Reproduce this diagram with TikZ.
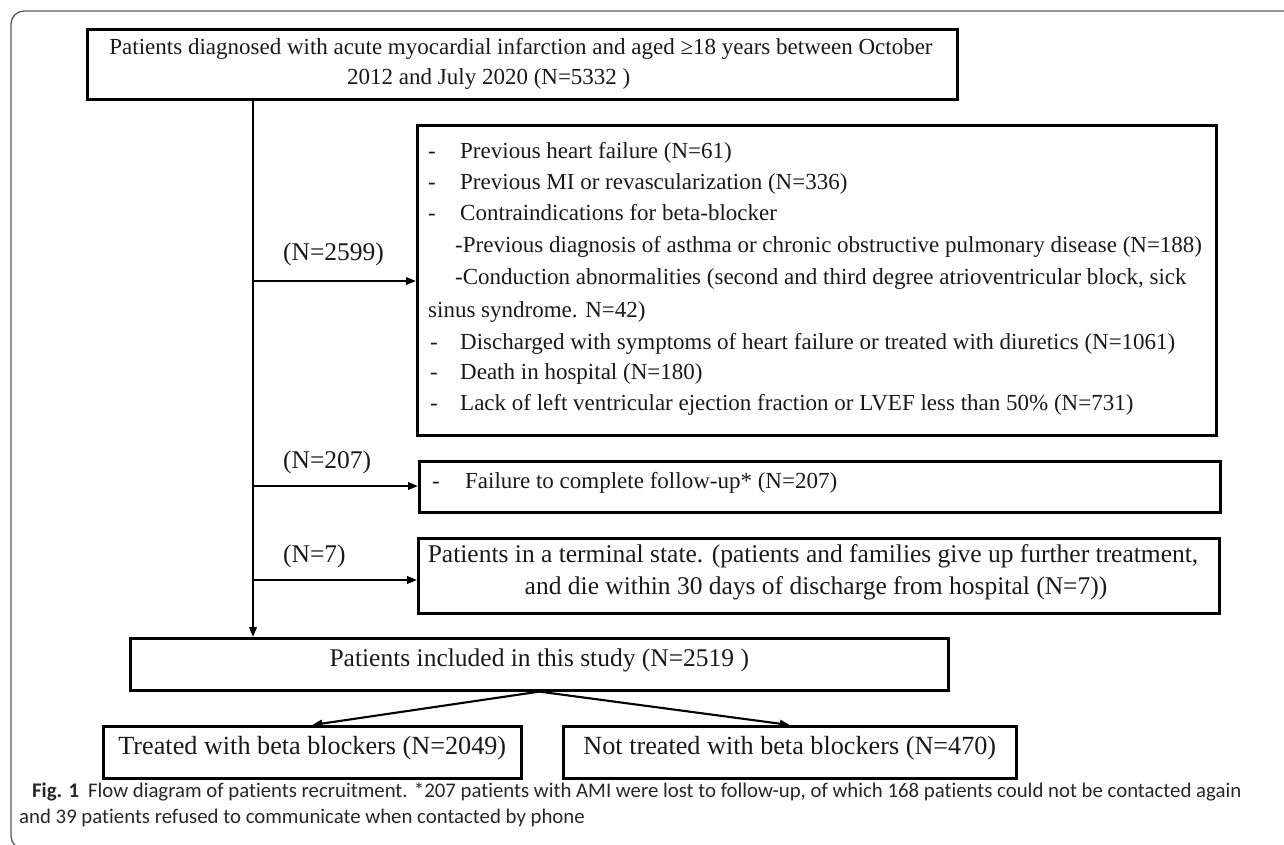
\documentclass[tikz,border=0pt]{standalone}
\usepackage{fontspec}
\setmainfont{Liberation Serif}
\newfontfamily\capfont[Ligatures={NoCommon}]{Carlito}
\usetikzlibrary{arrows.meta}
\newcommand\diafs{\fontsize{23}{31}\selectfont}
\newcommand\bigfs{\fontsize{25.5}{32}\selectfont}
\newcommand\botfs{\fontsize{26.2}{32}\selectfont}
\newcommand\capfs{\capfont\fontsize{20.8}{26}\selectfont}
\begin{document}
\begin{tikzpicture}[x=1pt,y=-1pt,
  box/.style={draw=black, line width=2.6pt, inner sep=0pt, anchor=north west},
  txt/.style={inner sep=0pt, font=\diafs, text=black!90},
  lbl/.style={inner sep=0pt, font=\bigfs, anchor=mid west, text=black!90},
  arr/.style={draw=black, line width=2.1pt, -{Triangle[length=10pt,width=7.5pt]}},
  frame/.style={draw=black!65, line width=1.3pt, rounded corners=13pt},
  captxt/.style={inner sep=0pt, font=\capfs, anchor=mid west, text=black!85}]
\useasboundingbox (0,0) rectangle (1284,845);
\begin{scope}
  \clip (0,0) rectangle (1284,845);
  \draw[frame] (1300,11) -- (11,11) -- (11,849) -- (1300,849);
\end{scope}

% boxes
\node[box, minimum width=870pt, minimum height=70pt] (top) at (86,28) {};
\node[box, minimum width=799pt, minimum height=310pt] (ex1) at (416,124) {};
\node[box, minimum width=801pt, minimum height=51pt] (ex2) at (418,460) {};
\node[box, minimum width=801pt, minimum height=75pt] (ex3) at (417,537) {};
\node[box, minimum width=818pt, minimum height=52pt] (incl) at (129,637) {};
\node[box, minimum width=418pt, minimum height=52pt] (treat) at (102,725) {};
\node[box, minimum width=453pt, minimum height=52pt] (notr) at (562,725) {};

% top box text
\node[txt, anchor=mid] (t1) at (521,52) {Patients diagnosed with acute myocardial infarction and aged ≥18 years between October};
\node[txt, anchor=mid west] (t2) at (347,82) {2012 and July 2020 (N=5332 )};

% exclusion box 1 text
\node[txt, anchor=mid west] (e1) at (428,156) {\makebox[32pt][l]{-}Previous heart failure (N=61)};
\node[txt, anchor=mid west] (e2) at (428,187) {\makebox[32pt][l]{-}Previous MI or revascularization (N=336)};
\node[txt, anchor=mid west] (e3) at (428,218) {\makebox[32pt][l]{-}Contraindications for beta-blocker};
\node[txt, anchor=mid west] (e4) at (455,250) {-Previous diagnosis of asthma or chronic obstructive pulmonary disease (N=188)};
\node[txt, anchor=mid west] (e5) at (455,282) {-Conduction abnormalities (second and third degree atrioventricular block, sick};
\node[txt, anchor=mid west] (e6) at (428,315) {sinus syndrome. N=42)};
\node[txt, anchor=mid west] (e7) at (430,347) {\makebox[30pt][l]{-}Discharged with symptoms of heart failure or treated with diuretics (N=1061)};
\node[txt, anchor=mid west] (e8) at (430,377) {\makebox[30pt][l]{-}Death in hospital (N=180)};
\node[txt, anchor=mid west] (e9) at (430,408) {\makebox[30pt][l]{-}Lack of left ventricular ejection fraction or LVEF less than 50\% (N=731)};

% exclusion box 2 and 3 text
\node[txt, anchor=mid west] (f1) at (432,486) {\makebox[33pt][l]{-}Failure to complete follow-up* (N=207)};
\node[txt, font=\bigfs, anchor=mid] (g1) at (813,560) {Patients in a terminal state. (patients and families give up further treatment,};
\node[txt, font=\bigfs, anchor=mid] (g2) at (816,592) {and die within 30 days of discharge from hospital (N=7))};

% bottom texts
\node[txt, font=\bigfs, anchor=mid] (it) at (incl.center) {Patients included in this study (N=2519 )};
\node[txt, font=\botfs, anchor=mid] (tt) at (treat.center) {Treated with beta blockers (N=2049)};
\node[txt, font=\botfs, anchor=mid] (nt) at (notr.center) {Not treated with beta blockers (N=470)};

% count labels
\node[lbl] (n1) at (283,258) {(N=2599)};
\node[lbl] (n2) at (283,466) {(N=207)};
\node[lbl] (n3) at (283,560) {(N=7)};

% connectors
\coordinate (spine) at (253,0);
\coordinate (j1) at (253,281);
\coordinate (j2) at (253,486);
\coordinate (j3) at (253,580);
\draw[arr] (top.south -| spine) -- (incl.north -| spine);
\draw[arr] (j1) -- (ex1.west |- j1);
\draw[arr] (j2) -- (ex2.west |- j2);
\draw[arr] (j3) -- (ex3.west |- j3);
\draw[arr] (incl.south) -- (treat.north);
\draw[arr] (incl.south) -- (notr.north);

% caption
\node[captxt] (c1) at (32,795) {\textbf{Fig. 1}\hspace{9pt}Flow diagram of patients recruitment. *207 patients with AMI were lost to follow-up, of which 168 patients could not be contacted again};
\node[captxt] (c2) at (19,821) {and 39 patients refused to communicate when contacted by phone};
\end{tikzpicture}
\end{document}
